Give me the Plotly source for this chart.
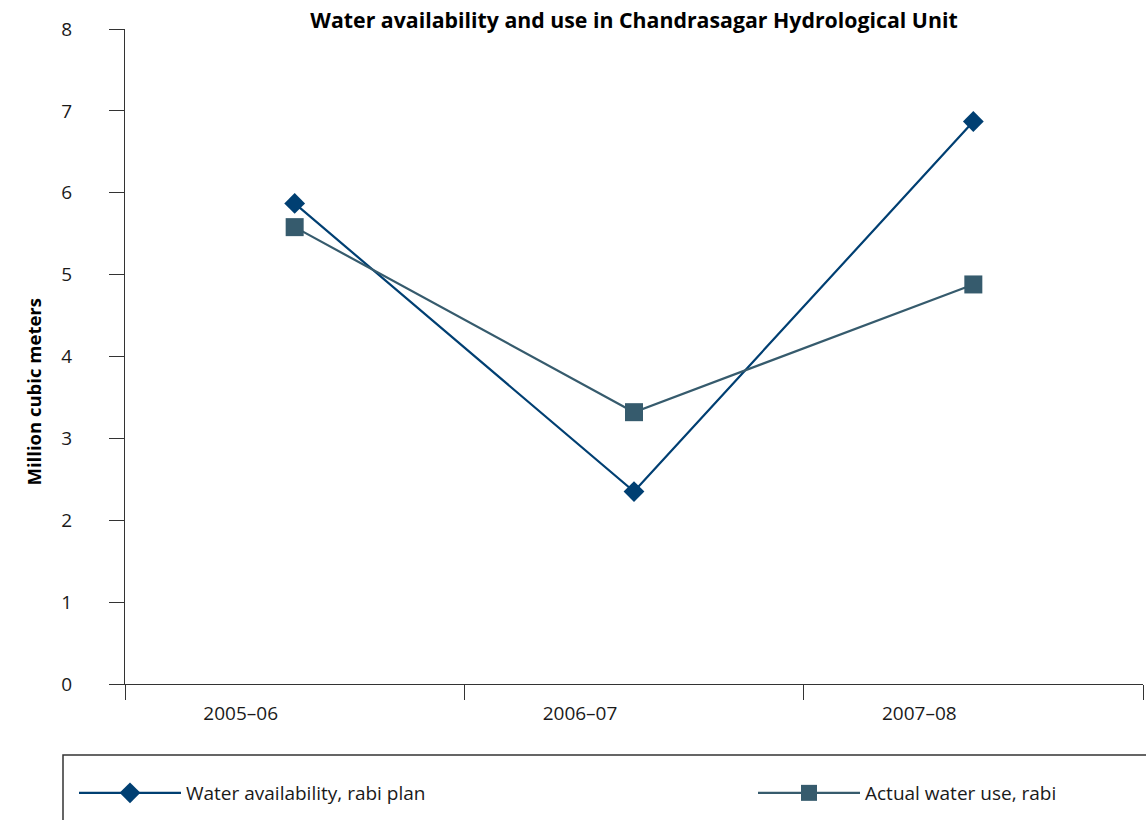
import plotly.graph_objects as go

# _____ DATA _____
seasons = ["2005–06", "2006–07", "2007–08"]
availability_rabi_plan = [5.87, 2.35, 6.87]
actual_use_rabi = [5.58, 3.32, 4.88]

# _____ STYLE _____
W, H = 1146, 820
L, R, T, B = 125, 3, 29, 136
PW, PH = W - L - R, H - T - B
FONT = "Open Sans"
TXT = "#1a1a1a"
AXIS = "#333333"
C_PLAN = "#003f72"
C_USE = "#365b6d"


def px_x(p):
    return (p - L) / PW


def px_y(p):
    return (H - B - p) / PH


fig = go.Figure()

fig.add_trace(go.Scatter(
    x=seasons, y=availability_rabi_plan, name="Water availability, rabi plan",
    mode="lines+markers", line=dict(color=C_PLAN, width=2.2),
    marker=dict(symbol="diamond", size=16, color=C_PLAN),
    legend="legend",
))
fig.add_trace(go.Scatter(
    x=seasons, y=actual_use_rabi, name="Actual water use, rabi",
    mode="lines+markers", line=dict(color=C_USE, width=2.2),
    marker=dict(symbol="square", size=18, color=C_USE),
    legend="legend2",
))

fig.update_layout(
    width=W, height=H,
    margin=dict(l=L, r=R, t=T, b=B),
    plot_bgcolor="white", paper_bgcolor="white",
    font=dict(family=FONT, size=19, color=TXT),
    title=dict(text="<b>Water availability and use in Chandrasagar Hydrological Unit</b>",
               x=0.5, xref="paper", xanchor="center",
               y=1 - 21 / H, yref="container", yanchor="middle",
               font=dict(size=21.3, color="#000000")),
    legend=dict(orientation="h", x=px_x(74), y=px_y(793), xanchor="left", yanchor="middle",
                itemwidth=102, font=dict(size=19, color=TXT), bgcolor="rgba(0,0,0,0)"),
    legend2=dict(orientation="h", x=px_x(753), y=px_y(793), xanchor="left", yanchor="middle",
                 itemwidth=102, font=dict(size=19, color=TXT), bgcolor="rgba(0,0,0,0)"),
    showlegend=True,
)

# category labels in the original sit left of the points, not under them
fig.update_xaxes(
    type="category", range=[-0.5, 2.5], tickson="boundaries",
    showline=True, linecolor=AXIS, linewidth=1.3,
    ticks="outside", ticklen=15, tickcolor=AXIS, tickwidth=1.3,
    ticklabelstandoff=12, ticklabelshift=-54, showgrid=False, zeroline=False,
)
fig.update_yaxes(
    range=[0, 8], dtick=1, tick0=0,
    showline=True, linecolor=AXIS, linewidth=1.3,
    ticks="outside", ticklen=15, tickcolor=AXIS, tickwidth=1.3,
    ticklabelstandoff=33, showgrid=False, zeroline=False,
)

# y axis title, sits a little below the plot centre in the original
fig.add_annotation(text="<b>Million cubic meters</b>", textangle=-90,
                   xref="paper", yref="paper", x=px_x(18), y=px_y(392),
                   showarrow=False, font=dict(size=18.5, color="#000000"))

# legend frame that runs off the page to the right and bottom
fig.add_shape(type="rect", xref="paper", yref="paper",
              x0=px_x(63), x1=px_x(1200), y0=px_y(755), y1=px_y(860),
              line=dict(color=AXIS, width=1.5), fillcolor="rgba(0,0,0,0)")

# drop the default body margin so the figure sits at the page origin
fig.write_html("out.html", config={"displayModeBar": False},
               post_script="document.body.style.margin='0';")
